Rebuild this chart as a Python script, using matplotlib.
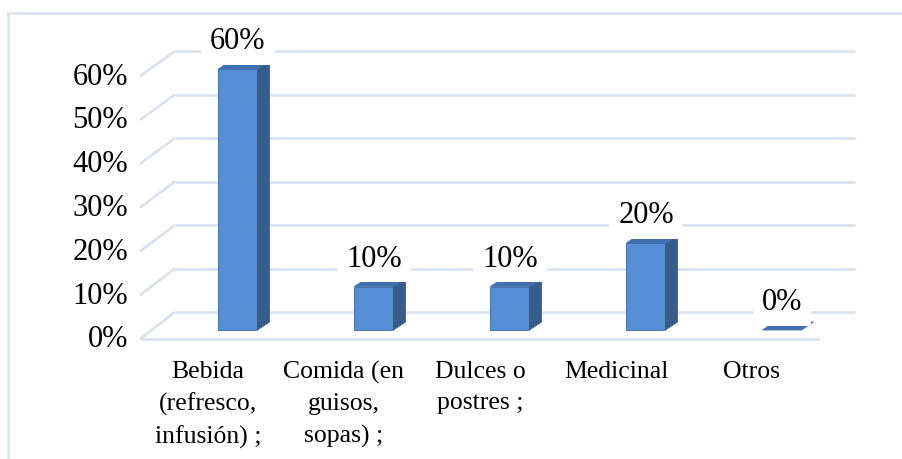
import matplotlib
matplotlib.use("Agg")
import matplotlib.pyplot as plt
from matplotlib.patches import Polygon
from matplotlib.lines import Line2D

categories = ["Bebida\n(refresco,\ninfusión) ;", "Comida (en\nguisos,\nsopas) ;",
              "Dulces o\npostres ;", "Medicinal", "Otros"]
values = [60, 10, 10, 20, 0]
ticks = [0, 10, 20, 30, 40, 50, 60]
tick_labels = ["0%", "10%", "20%", "30%", "40%", "50%", "60%"]

W, H = 903, 460
plt.rcParams['font.family'] = ['Liberation Serif', 'DejaVu Serif']

fig = plt.figure(figsize=(W / 100, H / 100), dpi=100)
x0, x1, y0, y1 = 170, 850, 331, 70
ax = fig.add_axes([x0 / W, 1 - y0 / H, (x1 - x0) / W, (y0 - y1) / H])
ax.set_xlim(-0.5, 4.5)
ax.set_ylim(0, 60)
ax.axis('off')

px_x = (x1 - x0) / 5.0      # pixels per category
px_y = (y0 - y1) / 60.0     # pixels per percent

def dx(p):
    return p / px_x

def dy(p):
    return p / px_y

grid_c = '#d6e0f1'
# back wall / floor grid and side diagonals
for v in ticks:
    yb = v + dy(18)
    yf = v * 4.38 / px_y - dy(9)
    ax.plot([-0.5 + dx(5), 4.5 + dx(5)], [yb, yb], color=grid_c, lw=1.8,
            clip_on=False, zorder=1, solid_capstyle='butt')
    ax.plot([-0.5 - dx(30), -0.5 + dx(5)], [yf, yb], color=grid_c, lw=1.8,
            clip_on=False, zorder=1, solid_capstyle='butt')
# front edge of floor
ax.plot([-0.5 - dx(30), 4.5 - dx(30)], [-dy(9), -dy(9)], color=grid_c, lw=1.8,
        clip_on=False, zorder=1, solid_capstyle='butt')

# y tick labels on the front plane
for v, lab in zip(ticks, tick_labels):
    yf = v * 4.38 / px_y - dy(9)
    ax.text(-0.5 - dx(42), yf, lab, ha='right', va='center', fontsize=22,
            color='black', clip_on=False)

# 3D-like bars
bw = 39 / px_x
ddx, ddy = dx(12), dy(8)
front_c, side_c, top_c, edge_c = '#558ed5', '#375d8c', '#416fb0', '#3a64a0'
for i, v in enumerate(values):
    left, right = i - bw / 2, i + bw / 2
    if v > 0:
        ax.bar(i, v, width=bw, color=front_c, edgecolor=edge_c, linewidth=0.6,
               zorder=3, clip_on=False)
        ax.add_patch(Polygon([(right, 0), (right + ddx, ddy), (right + ddx, v + ddy),
                              (right, v)], closed=True, facecolor=side_c,
                             edgecolor=side_c, lw=0.6, zorder=3, clip_on=False))
    ax.add_patch(Polygon([(left, v), (left + ddx, v + ddy), (right + ddx, v + ddy),
                          (right, v)], closed=True, facecolor=top_c,
                         edgecolor=top_c, lw=0.6, zorder=3, clip_on=False))
    ax.annotate(f"{v}%", (i, v), xytext=(0, 28), textcoords='offset pixels',
                ha='center', va='center', fontsize=22, zorder=5,
                bbox=dict(boxstyle='square,pad=0.3', fc='white', ec='none'))

# category labels under the front floor edge
for i, lab in enumerate(categories):
    ax.text(i - dx(30), -dy(30), lab, ha='center', va='top', fontsize=18.5,
            linespacing=1.53, multialignment='center', clip_on=False)

# chart area border (only top and left visible)
border_c = '#d9e2f3'
fig.add_artist(Line2D([8 / W, 1.0], [1 - 14 / H, 1 - 14 / H], color=border_c, lw=1.8))
fig.add_artist(Line2D([8 / W, 8 / W], [0, 1 - 14 / H], color=border_c, lw=1.8))

fig.savefig("out.png", dpi=100, facecolor='white')
